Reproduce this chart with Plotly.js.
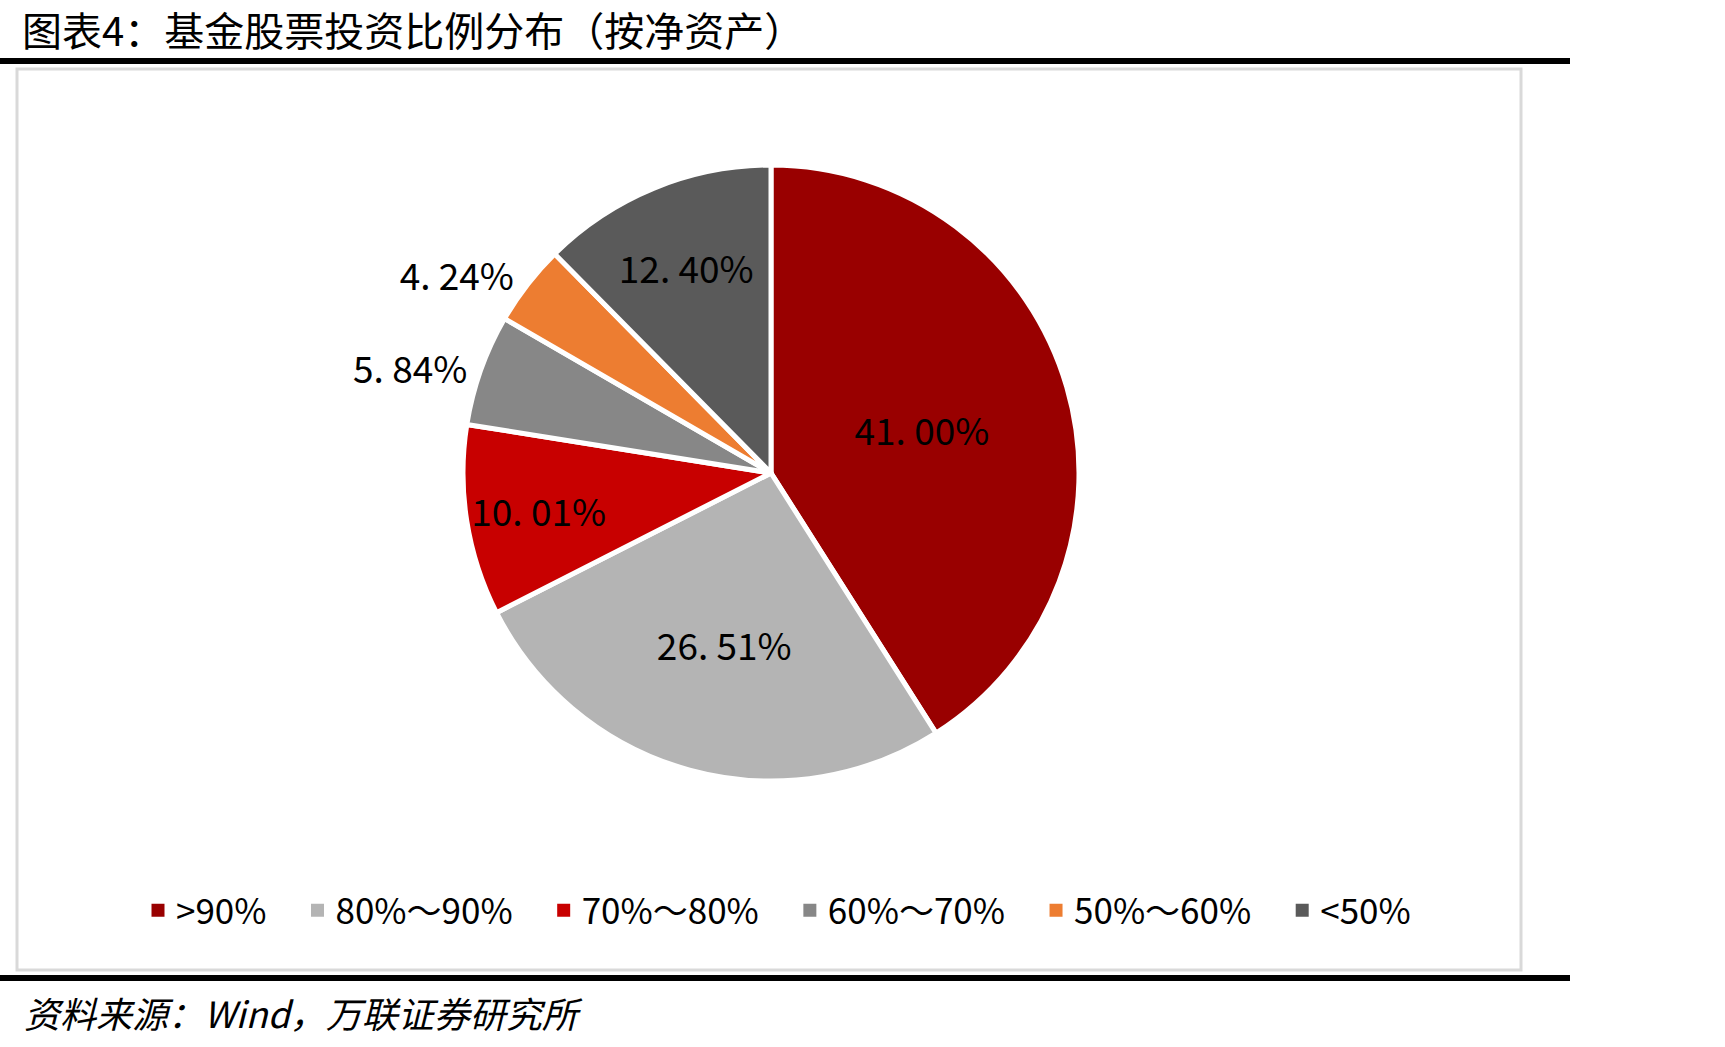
<!DOCTYPE html>
<html>
<head>
<meta charset="utf-8">
<script src="https://cdn.plot.ly/plotly-3.0.1.min.js"></script>
<style>html,body{margin:0;padding:0;background:#fff;}#chart{width:1725px;height:1047px;}</style>
</head>
<body>
<div id="chart"></div>
<script>
// Data
const categories = ['>90%', '80%～90%', '70%～80%', '60%～70%', '50%～60%', '<50%'];
const shares = [41.00, 26.51, 10.01, 5.84, 4.24, 12.40];
const sliceColors = ['#990000', '#B4B4B4', '#C80000', '#878787', '#ED7D31', '#5A5A5A'];
const labelPositions = ['inside', 'inside', 'inside', 'outside', 'outside', 'inside'];
const titleText = '图表4：基金股票投资比例分布（按净资产）';
const sourceText = '资料来源：Wind，万联证券研究所';

const W = 1725, H = 1047;
const px = v => v / W;
const py = v => 1 - v / H;

const labelText = shares.map(v => v.toFixed(2).replace('.', '. ') + '%');

const FONT = '"Noto Sans CJK SC", "Noto Sans", sans-serif';

const trace = {
  type: 'pie',
  labels: categories,
  values: shares,
  text: labelText,
  textinfo: 'text',
  textposition: labelPositions,
  insidetextorientation: 'horizontal',
  sort: false,
  direction: 'clockwise',
  rotation: 0,
  marker: { colors: sliceColors, line: { color: '#FFFFFF', width: 5 } },
  textfont: { family: FONT, size: 37, color: '#000000' },
  insidetextfont: { family: FONT, size: 37, color: '#000000' },
  outsidetextfont: { family: FONT, size: 37, color: '#000000' },
  domain: { x: [px(463), px(1079)], y: [py(781), py(165)] },
  hoverinfo: 'label+percent'
};

const layout = {
  width: W, height: H,
  margin: { l: 0, r: 0, t: 0, b: 0 },
  paper_bgcolor: '#FFFFFF',
  plot_bgcolor: '#FFFFFF',
  font: { family: FONT, color: '#000000' },
  title: {
    text: titleText,
    font: { family: FONT, size: 40, color: '#000000' },
    x: px(22), xanchor: 'left', xref: 'paper',
    y: py(32), yanchor: 'middle', yref: 'paper'
  },
  showlegend: true,
  legend: {
    orientation: 'h',
    x: px(136), xanchor: 'left',
    y: py(881), yanchor: 'top',
    font: { family: FONT, size: 35, color: '#000000' },
    entrywidth: 189,
    entrywidthmode: 'pixels',
    bgcolor: 'rgba(0,0,0,0)',
    traceorder: 'normal'
  },
  shapes: [
    { type: 'rect', xref: 'paper', yref: 'paper', x0: px(0), x1: px(1570), y0: py(64), y1: py(58), line: { width: 0 }, fillcolor: '#000000' },
    { type: 'rect', xref: 'paper', yref: 'paper', x0: px(0), x1: px(1570), y0: py(981), y1: py(975), line: { width: 0 }, fillcolor: '#000000' },
    { type: 'rect', xref: 'paper', yref: 'paper', x0: px(17), x1: px(1521), y0: py(970), y1: py(69), line: { width: 3, color: '#D9D9D9' }, fillcolor: 'rgba(0,0,0,0)' }
  ],
  annotations: [
    {
      text: '<i>' + sourceText + '</i>',
      xref: 'paper', yref: 'paper',
      x: px(22), xanchor: 'left',
      y: py(1012), yanchor: 'middle',
      showarrow: false,
      font: { family: FONT, size: 36, color: '#000000' }
    }
  ]
};

Plotly.newPlot('chart', [trace], layout, { displayModeBar: false, staticPlot: true }).then(gd => {
  // legend styling: solid square swatches and item spacing like the reference
  const items = gd.querySelectorAll('.legend .traces');
  let x = 0;
  items.forEach(item => {
    const tr = item.getAttribute('transform') || '';
    const m = /translate\(\s*([-\d.e]+)[ ,]+([-\d.e]+)\s*\)/.exec(tr);
    const y = m ? parseFloat(m[2]) : 0;
    item.setAttribute('transform', 'translate(' + x + ',' + y + ')');
    const t = item.querySelector('text.legendtext');
    const w = t ? t.getBBox().width : 100;
    x += 40 + w + 29;
    item.querySelectorAll('.legendpoints path').forEach(p => {
      p.setAttribute('d', 'M8.5,6.5H-4.5V-6.5H8.5Z');
      p.style.strokeWidth = '0';
    });
  });
});
</script>
</body>
</html>
